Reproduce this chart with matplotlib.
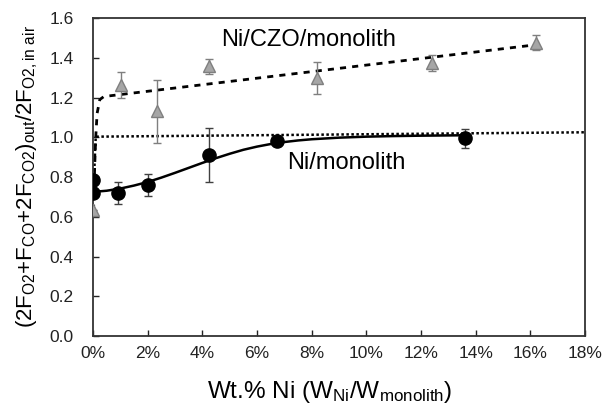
import matplotlib
matplotlib.use("Agg")
import matplotlib.pyplot as plt
from matplotlib.ticker import FuncFormatter

plt.rcParams['font.family'] = ['Liberation Sans', 'DejaVu Sans']
plt.rcParams['mathtext.fontset'] = 'custom'
plt.rcParams['mathtext.rm'] = 'Liberation Sans'
plt.rcParams['mathtext.it'] = 'Liberation Sans'
plt.rcParams['mathtext.default'] = 'regular'

# Ni/monolith (circles)
ni_x = [0.0, 0.0, 0.93, 2.02, 4.24, 6.72, 13.59]
ni_y = [0.785, 0.72, 0.718, 0.76, 0.91, 0.983, 0.994]
ni_err = [0.0, 0.0, 0.055, 0.055, 0.135, 0.0, 0.05]

# Ni/CZO/monolith (triangles)
czo_x = [0.0, 1.01, 2.33, 4.24, 8.21, 12.39, 16.2]
czo_y = [0.634, 1.263, 1.13, 1.358, 1.30, 1.372, 1.476]
czo_err = [0.0, 0.063, 0.16, 0.038, 0.08, 0.04, 0.036]

# fitted curves
fit_ni_x = [0.0, 0.5, 1.0, 1.5, 2.0, 2.5, 3.0, 3.5, 4.0, 4.5, 5.0, 5.5, 6.0, 6.5,
            7.0, 7.5, 8.0, 9.0, 10.0, 11.0, 12.0, 13.6]
fit_ni_y = [0.725, 0.731, 0.742, 0.757, 0.775, 0.797, 0.821, 0.846, 0.871, 0.895,
            0.917, 0.937, 0.953, 0.966, 0.976, 0.984, 0.990, 0.998, 1.003, 1.006,
            1.008, 1.010]
fit_czo_x = [0.02, 0.06, 0.1, 0.15, 0.25, 0.4, 16.0]
fit_czo_y = [0.63, 0.85, 1.0, 1.12, 1.19, 1.205, 1.462]
ref_x = [0.03, 0.1, 18.0]
ref_y = [0.78, 1.003, 1.025]

x_ticks = [0, 2, 4, 6, 8, 10, 12, 14, 16, 18]
y_ticks = [0.0, 0.2, 0.4, 0.6, 0.8, 1.0, 1.2, 1.4, 1.6]

fig = plt.figure(figsize=(6.02, 4.13), dpi=100)
ax = fig.add_axes([0.1545, 0.1864, 0.972 - 0.1545, 0.9564 - 0.1864])

ax.plot(ref_x, ref_y, color='black', linestyle=(0, (1, 1)), lw=1.8, zorder=2)
ax.plot(fit_czo_x, fit_czo_y, color='black', linestyle=(0, (2.2, 2.2)), lw=2.0, zorder=2)
ax.plot(fit_ni_x, fit_ni_y, color='black', lw=1.8, zorder=2)

ax.errorbar(czo_x, czo_y, yerr=czo_err, fmt='^', ms=8, mfc='#a6a6a6', mec='#7f7f7f',
            mew=1.0, ecolor='#7f7f7f', elinewidth=1.0, capsize=3, capthick=1.0, zorder=3)
ax.errorbar(ni_x, ni_y, yerr=ni_err, fmt='o', ms=9.5, mfc='black', mec='black',
            ecolor='#404040', elinewidth=1.0, capsize=3, capthick=1.0, zorder=4)

ax.text(4.7, 1.49, 'Ni/CZO/monolith', fontsize=17, va='center', ha='left')
ax.text(7.1, 0.868, 'Ni/monolith', fontsize=17, va='center', ha='left')

ax.set_xlim(0, 18)
ax.set_ylim(0, 1.6)
ax.set_xticks(x_ticks)
ax.set_yticks(y_ticks)
ax.xaxis.set_major_formatter(FuncFormatter(lambda v, p: f'{int(round(v))}%'))
ax.yaxis.set_major_formatter(FuncFormatter(lambda v, p: f'{v:.1f}'))
ax.tick_params(direction='in', length=4, width=1.0, labelsize=12.5, colors='#222222')
ax.tick_params(axis='x', pad=7)
ax.tick_params(axis='y', pad=14)
for s in ax.spines.values():
    s.set_linewidth(1.3)
    s.set_color('#333333')

ax.set_xlabel(r'Wt.% Ni (W$_{Ni}$/W$_{monolith}$)', fontsize=17.5, labelpad=8)
ax.xaxis.set_label_coords(0.48, -0.135)
ax.set_ylabel(r'(2F$_{O2}$+F$_{CO}$+2F$_{CO2}$)$_{out}$/2F$_{O2,in\ air}$', fontsize=16, labelpad=7)

fig.savefig('out.png', dpi=100)
